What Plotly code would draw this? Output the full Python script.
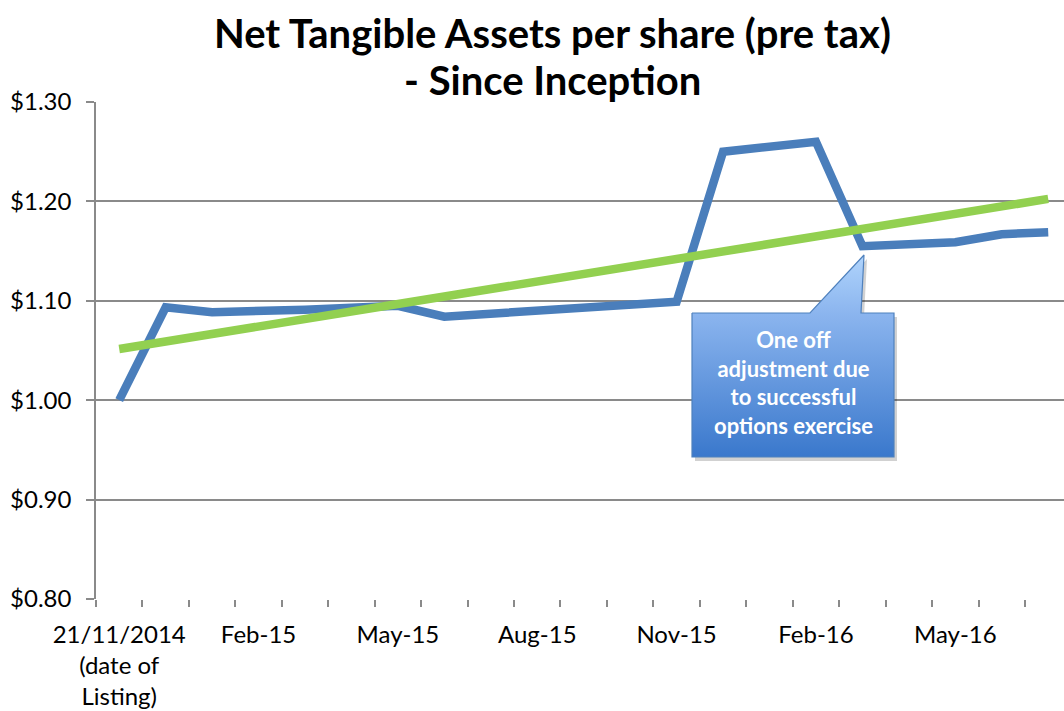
import plotly.graph_objects as go

# ---- data ----
categories = ["21/11/2014", "Dec-14", "Jan-15", "Feb-15", "Mar-15", "Apr-15", "May-15",
              "Jun-15", "Jul-15", "Aug-15", "Sep-15", "Oct-15", "Nov-15", "Dec-15",
              "Jan-16", "Feb-16", "Mar-16", "Apr-16", "May-16", "Jun-16", "Jul-16"]
nta_values = [1.000, 1.0935, 1.0885, 1.089, 1.091, 1.093, 1.095,
              1.084, 1.087, 1.090, 1.093, 1.096, 1.099, 1.250,
              1.255, 1.260, 1.155, 1.157, 1.159, 1.167, 1.169]
trend_values = [1.0515, 1.2025]          # linear trend line, first & last category
tick_labels = ["21/11/2014<br>(date of<br>Listing)", "Feb-15", "May-15", "Aug-15",
               "Nov-15", "Feb-16", "May-16"]
tick_positions = [0, 3, 6, 9, 12, 15, 18]
y_ticks = [0.8, 0.9, 1.0, 1.1, 1.2, 1.3]
y_tick_labels = ["$0.80", "$0.90", "$1.00", "$1.10", "$1.20", "$1.30"]

x_idx = list(range(len(categories)))

BLUE = "#4a7ebb"
GREEN = "#92d050"
GRID = "#8a8a8a"
FONT = "Lato"

W, H = 1064, 711
ML, MT, MB = 96, 102, 112
PLOT_H = H - MT - MB

fig = go.Figure()

fig.add_trace(go.Scatter(x=x_idx, y=nta_values, mode="lines",
                         line=dict(color=BLUE, width=8.5), name="NTA per share",
                         showlegend=False))
fig.add_trace(go.Scatter(x=[x_idx[0], x_idx[-1]], y=trend_values, mode="lines",
                         line=dict(color=GREEN, width=8.5), name="Trend",
                         showlegend=False))

# ---- callout (page pixel coordinates on overlay axes, y measured upward) ----
def py(v):
    return H - v
cx = [692, 810, 864, 861, 894, 894, 692, 692]
cy = [313, 313, 255, 313, 313, 457, 457, 313]
fig.add_trace(go.Scatter(x=[v + 3 for v in cx], y=[py(v + 4) for v in cy],
                         xaxis="x2", yaxis="y2", mode="lines", fill="toself",
                         fillcolor="rgba(0,0,0,0.18)", line=dict(width=0),
                         hoverinfo="skip", showlegend=False))
fig.add_trace(go.Scatter(x=cx, y=[py(v) for v in cy], xaxis="x2", yaxis="y2",
                         mode="lines", fill="toself",
                         fillgradient=dict(type="vertical",
                                           colorscale=[[0, "#3a78cc"], [0.7, "#8ab4ee"],
                                                       [1, "#b0d4fc"]]),
                         line=dict(color="#4f81bd", width=1.2),
                         hoverinfo="skip", showlegend=False))

fig.add_annotation(x=793, y=py(382), xref="x2", yref="y2",
                   text="<b>One off<br>adjustment due<br>to successful<br>options exercise</b>",
                   showarrow=False, font=dict(family=FONT, size=22, color="white"),
                   align="center")

# ---- title (two lines) ----
def paper_y(win_y):
    return (H - MB - win_y) / PLOT_H
title_x = (552 - ML) / (W - ML)
for txt, wy in [("Net Tangible Assets per share (pre tax)", 33), ("- Since Inception", 80)]:
    fig.add_annotation(x=title_x, y=paper_y(wy), xref="paper", yref="paper",
                       text=f"<b>{txt}</b>", showarrow=False, xanchor="center",
                       yanchor="middle", font=dict(family=FONT, size=40, color="black"))

fig.update_layout(
    width=W, height=H,
    margin=dict(l=ML, r=0, t=MT, b=MB, autoexpand=False),
    paper_bgcolor="white", plot_bgcolor="white",
    xaxis=dict(range=[-0.5, 20.34], tickmode="array", tickvals=tick_positions,
               ticktext=tick_labels, ticks="", showgrid=False, zeroline=False,
               showline=False, tickfont=dict(family=FONT, size=24, color="black"),
               ticklabelstandoff=19, automargin=False,
               minor=dict(tickmode="array",
                          tickvals=[i - 0.5 for i in range(len(categories) + 1)],
                          ticks="outside", ticklen=7, tickcolor=GRID, tickwidth=1.5,
                          showgrid=False)),
    yaxis=dict(range=[0.8, 1.3], tickmode="array", tickvals=y_ticks,
               ticktext=y_tick_labels, ticks="outside", ticklen=8, tickcolor=GRID,
               tickwidth=1.5, showgrid=True, gridcolor=GRID, gridwidth=1.5,
               zeroline=False, showline=True, linecolor=GRID, linewidth=1.5,
               tickfont=dict(family=FONT, size=24, color="black"),
               ticklabelstandoff=10, automargin=False),
    xaxis2=dict(range=[96, 1064], overlaying="x", visible=False),
    yaxis2=dict(range=[py(599), py(102)], overlaying="y", visible=False),
)

fig.write_html("out.html",
               config={"displayModeBar": False},
               post_script="document.body.style.margin='0';"
                           "document.body.style.overflow='hidden';")
